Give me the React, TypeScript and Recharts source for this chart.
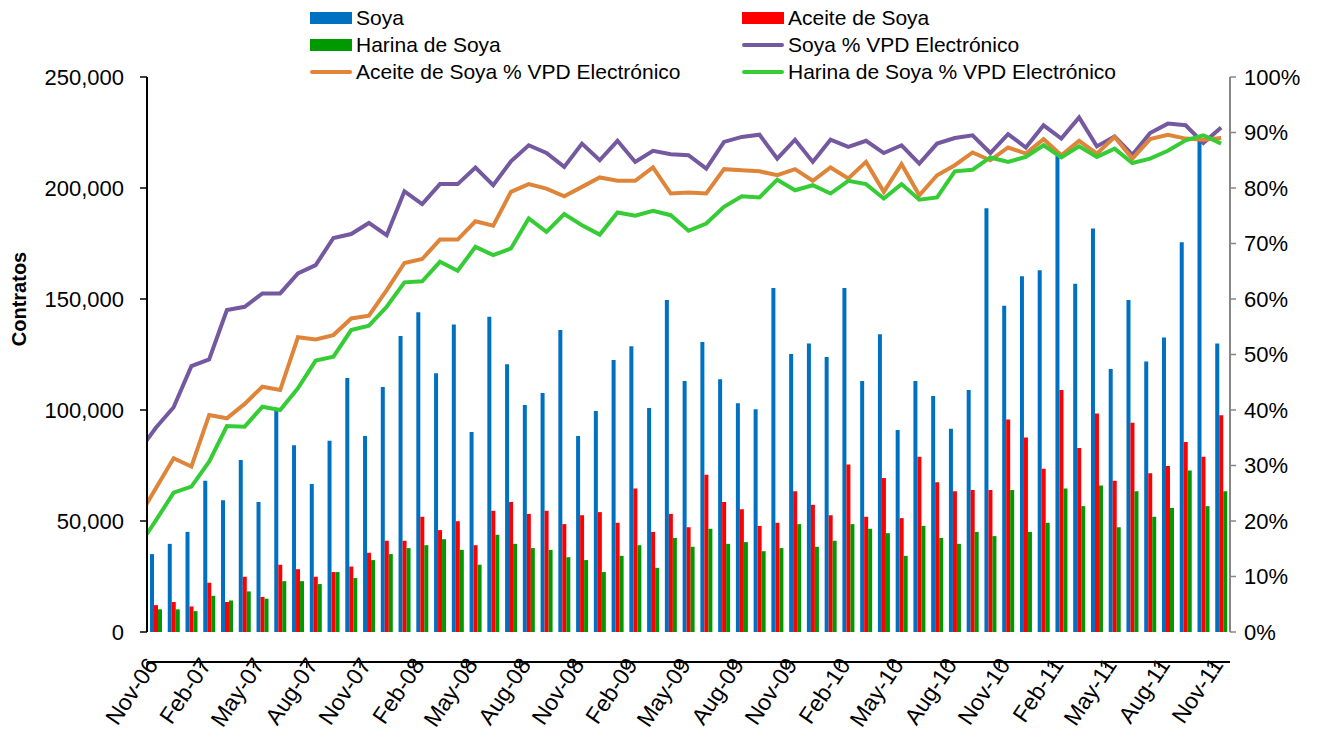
import { Bar, ComposedChart, Label, Line, XAxis, YAxis } from 'recharts';

// meses (una barra por mes)
const months = [
  'Nov-06', 'Dec-06', 'Jan-07', 'Feb-07', 'Mar-07', 'Apr-07', 'May-07', 'Jun-07', 'Jul-07', 'Aug-07', 'Sep-07', 'Oct-07',
  'Nov-07', 'Dec-07', 'Jan-08', 'Feb-08', 'Mar-08', 'Apr-08', 'May-08', 'Jun-08', 'Jul-08', 'Aug-08', 'Sep-08', 'Oct-08',
  'Nov-08', 'Dec-08', 'Jan-09', 'Feb-09', 'Mar-09', 'Apr-09', 'May-09', 'Jun-09', 'Jul-09', 'Aug-09', 'Sep-09', 'Oct-09',
  'Nov-09', 'Dec-09', 'Jan-10', 'Feb-10', 'Mar-10', 'Apr-10', 'May-10', 'Jun-10', 'Jul-10', 'Aug-10', 'Sep-10', 'Oct-10',
  'Nov-10', 'Dec-10', 'Jan-11', 'Feb-11', 'Mar-11', 'Apr-11', 'May-11', 'Jun-11', 'Jul-11', 'Aug-11', 'Sep-11', 'Oct-11',
  'Nov-11',
];
const tickIndexes = [0, 3, 6, 9, 12, 15, 18, 21, 24, 27, 30, 33, 36, 39, 42, 45, 48, 51, 54, 57, 60];

// contratos
const soya = [
  35100, 39700, 45100, 68100, 59400, 77500, 58600, 100000, 84100, 66700, 86200, 114400,
  88300, 110400, 133300, 144000, 116500, 138500, 90100, 142000, 120600, 102300, 107700, 136000,
  88300, 99600, 122500, 128700, 100900, 149600, 113100, 130600, 113800, 103000, 100300, 154900,
  125200, 129900, 123900, 155000, 113100, 134100, 91000, 113100, 106300, 91500, 109000, 190900,
  147000, 160300, 163000, 215500, 156900, 181800, 118500, 149500, 121900, 132700, 175600, 221500,
  130000,
];
const aceite = [
  12100, 13500, 11500, 22200, 13500, 24900, 15800, 30300, 28300, 24900, 27000, 29500,
  35700, 41100, 41100, 51900, 45900, 49900, 39100, 54600, 58600, 53200, 54600, 48600,
  52600, 54000, 49200, 64600, 45100, 53200, 47200, 70800, 58600, 55300, 47800, 49200,
  63400, 57300, 52600, 75400, 51900, 69400, 51300, 78900, 67500, 63400, 64000, 64000,
  95700, 87600, 73500, 109000, 82900, 98400, 68100, 94300, 71500, 74800, 85600, 78900,
  97600,
];
const harina = [
  10200, 10200, 9400, 16300, 14200, 18300, 15000, 22900, 22900, 21600, 27000, 24300,
  32400, 35100, 37800, 39100, 41800, 37000, 30300, 43800, 39700, 37800, 37000, 33700,
  32400, 27000, 34300, 39100, 28900, 42400, 38400, 46500, 39700, 40500, 36400, 37800,
  48600, 38400, 41100, 48600, 46500, 44500, 34300, 47800, 42400, 39700, 45100, 43200,
  64000, 45100, 49200, 64600, 56700, 66000, 47200, 63400, 51900, 55900, 72700, 56700,
  63400,
];

// % VPD electrónico; el primer valor es Oct-06 (solo asoma en el borde izquierdo)
const soyaPct = [
  32.4, 36.8, 40.5, 47.9, 49.1, 58.0, 58.6, 61.0, 61.0, 64.6, 66.1, 71.0, 71.7,
  73.7, 71.5, 79.4, 77.1, 80.7, 80.7, 83.7, 80.5, 84.8, 87.7, 86.3, 83.8,
  88.0, 85.0, 88.5, 84.7, 86.7, 86.1, 85.9, 83.5, 88.3, 89.2, 89.6, 85.3,
  88.7, 84.7, 88.7, 87.4, 88.5, 86.3, 87.7, 84.4, 88.0, 89.0, 89.5, 86.3,
  89.7, 87.3, 91.3, 88.9, 92.7, 87.5, 89.3, 86.0, 89.9, 91.6, 91.3, 88.1,
  90.9,
];
const aceitePct = [
  20.5, 25.9, 31.3, 29.8, 39.1, 38.5, 41.1, 44.2, 43.6, 53.1, 52.7, 53.5, 56.5,
  57.0, 61.6, 66.5, 67.2, 70.7, 70.7, 74.0, 73.2, 79.3, 80.7, 79.9, 78.5,
  80.2, 81.9, 81.3, 81.3, 83.7, 79.0, 79.2, 79.0, 83.4, 83.2, 83.0, 82.3,
  83.4, 81.3, 83.7, 81.7, 84.7, 79.3, 84.3, 78.7, 82.3, 84.1, 86.4, 85.0,
  87.3, 86.2, 88.8, 85.9, 88.5, 86.2, 89.2, 85.3, 88.8, 89.6, 88.9, 88.7,
  89.0,
];
const harinaPct = [
  15.3, 20.1, 25.1, 26.2, 30.7, 37.1, 37.0, 40.6, 40.0, 43.9, 48.9, 49.6, 54.4,
  55.2, 58.6, 63.0, 63.2, 66.7, 65.1, 69.4, 67.9, 69.1, 74.5, 72.1, 75.3,
  73.3, 71.6, 75.6, 75.0, 75.9, 75.1, 72.3, 73.6, 76.6, 78.5, 78.3, 81.5,
  79.6, 80.5, 79.0, 81.3, 80.7, 78.1, 80.7, 77.9, 78.3, 83.0, 83.3, 85.5,
  84.7, 85.6, 87.7, 85.5, 87.5, 85.6, 87.1, 84.5, 85.3, 86.7, 88.6, 89.5,
  88.0,
];

const leftTicks = [0, 50000, 100000, 150000, 200000, 250000];
const rightTicks = [0, 10, 20, 30, 40, 50, 60, 70, 80, 90, 100];

const COLORS = {
  soya: '#0070C0',
  aceite: '#FF0000',
  harina: '#009900',
  soyaPct: '#7459A0',
  aceitePct: '#DE853A',
  harinaPct: '#36CC36',
};

const legendItems = [
  { name: 'Soya', color: COLORS.soya, kind: 'bar', col: 0, row: 0 },
  { name: 'Aceite de Soya', color: COLORS.aceite, kind: 'bar', col: 1, row: 0 },
  { name: 'Harina de Soya', color: COLORS.harina, kind: 'bar', col: 0, row: 1 },
  { name: 'Soya % VPD Electrónico', color: COLORS.soyaPct, kind: 'line', col: 1, row: 1 },
  { name: 'Aceite de Soya % VPD Electrónico', color: COLORS.aceitePct, kind: 'line', col: 0, row: 2 },
  { name: 'Harina de Soya % VPD Electrónico', color: COLORS.harinaPct, kind: 'line', col: 1, row: 2 },
];

const FONT = '"Liberation Sans", Arial, sans-serif';

// etiqueta girada, el final del texto queda junto a la marca
const MonthTick = ({ x, payload }: any) => (
  <g transform={`translate(${x + 12},665)`}>
    <text textAnchor="end" transform="rotate(-56)" fontSize={23} fill="#000">
      {months[payload.value]}
    </text>
  </g>
);

const ChartLegend = () => (
  <div style={{ position: 'absolute', left: 0, top: 0 }}>
    {legendItems.map((item) => {
      const left = item.col === 0 ? 310 : 742;
      const cy = 18 + item.row * 27;
      return (
        <div key={item.name} style={{ position: 'absolute', left, top: cy - 14, height: 28, display: 'flex', alignItems: 'center', whiteSpace: 'nowrap' }}>
          <span
            style={{
              display: 'inline-block',
              width: 42,
              height: item.kind === 'bar' ? 12 : 4,
              background: item.color,
              borderRadius: item.kind === 'bar' ? 0 : 2,
              marginRight: 4,
            }}
          />
          <span style={{ fontSize: 21, color: '#000' }}>{item.name}</span>
        </div>
      );
    })}
  </div>
);

const App = () => {
  const barRows = months.map((month, i) => ({ month, soya: soya[i], aceite: aceite[i], harina: harina[i] }));
  const lineRows = ['Oct-06', ...months].map((month, i) => ({
    month,
    pos: i - 0.5,
    soyaPct: soyaPct[i],
    aceitePct: aceitePct[i],
    harinaPct: harinaPct[i],
  }));

  return (
    <div style={{ position: 'fixed', left: 0, top: 0, width: 1326, height: 732, background: '#fff', fontFamily: FONT }}>
      <ComposedChart width={1326} height={732} data={barRows} margin={{ top: 77, right: 0, bottom: 0, left: 0 }} barGap={0}>
        <XAxis xAxisId="cat" dataKey="month" hide />
        <XAxis
          xAxisId="num"
          type="number"
          dataKey="pos"
          domain={[0, 61]}
          ticks={tickIndexes}
          interval={0}
          allowDataOverflow
          height={100}
          tickSize={6}
          tick={<MonthTick />}
          axisLine={{ stroke: '#000', strokeWidth: 2 }}
          tickLine={{ stroke: '#000', strokeWidth: 1.5 }}
        />
        <YAxis
          yAxisId="left"
          domain={[0, 250000]}
          ticks={leftTicks}
          interval={0}
          width={147}
          tickSize={7}
          tickMargin={16}
          tickFormatter={(v: number) => v.toLocaleString('en-US')}
          tick={{ fontSize: 22, fill: '#000' }}
          axisLine={{ stroke: '#000', strokeWidth: 2 }}
          tickLine={{ stroke: '#000', strokeWidth: 1.5 }}
        >
          <Label
            content={() => (
              <text x={19} y={299} transform="rotate(-90, 19, 299)" textAnchor="middle" dominantBaseline="central" fontSize={20} fontWeight="bold" fill="#000">
                Contratos
              </text>
            )}
          />
        </YAxis>
        <YAxis
          yAxisId="right"
          orientation="right"
          domain={[0, 100]}
          ticks={rightTicks}
          interval={0}
          width={96}
          tickSize={6}
          tickMargin={8}
          tickFormatter={(v: number) => `${v}%`}
          tick={{ fontSize: 22, fill: '#000' }}
          axisLine={{ stroke: '#868686', strokeWidth: 2 }}
          tickLine={{ stroke: '#868686', strokeWidth: 1.5 }}
        />

        <Bar xAxisId="cat" yAxisId="left" dataKey="soya" name="Soya" fill={COLORS.soya} barSize={4} isAnimationActive={false} />
        <Bar xAxisId="cat" yAxisId="left" dataKey="aceite" name="Aceite de Soya" fill={COLORS.aceite} barSize={4} isAnimationActive={false} />
        <Bar xAxisId="cat" yAxisId="left" dataKey="harina" name="Harina de Soya" fill={COLORS.harina} barSize={4} isAnimationActive={false} />

        <Line xAxisId="num" yAxisId="right" data={lineRows} dataKey="soyaPct" name="Soya % VPD Electrónico" stroke={COLORS.soyaPct} strokeWidth={4} dot={false} isAnimationActive={false} />
        <Line xAxisId="num" yAxisId="right" data={lineRows} dataKey="aceitePct" name="Aceite de Soya % VPD Electrónico" stroke={COLORS.aceitePct} strokeWidth={4} dot={false} isAnimationActive={false} />
        <Line xAxisId="num" yAxisId="right" data={lineRows} dataKey="harinaPct" name="Harina de Soya % VPD Electrónico" stroke={COLORS.harinaPct} strokeWidth={4} dot={false} isAnimationActive={false} />
      </ComposedChart>
      <ChartLegend />
    </div>
  );
};

export default App;
